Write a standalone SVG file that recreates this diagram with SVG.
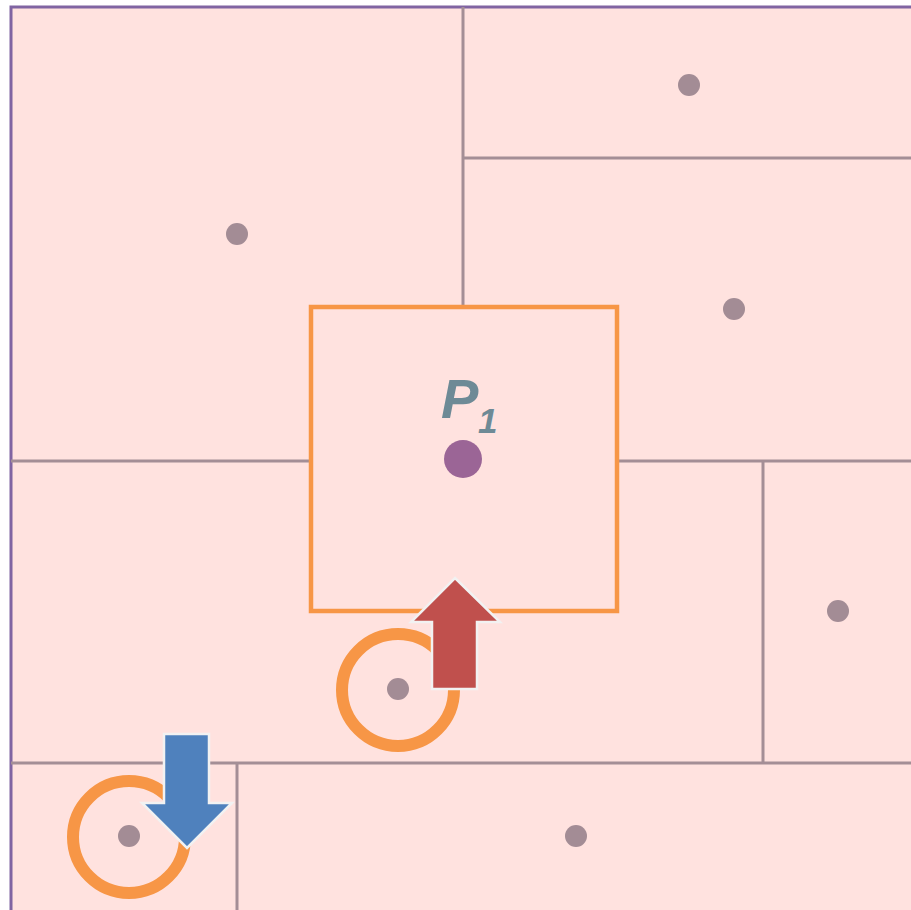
<svg xmlns="http://www.w3.org/2000/svg" width="911" height="910" viewBox="0 0 911 910">
<style>
.div{stroke:#A48E96;stroke-width:3;fill:none}
.pt{fill:#A38C95}
.ring{fill:none;stroke:#F79646;stroke-width:12}
.arrow{stroke:#F2F2F2;stroke-width:2.5;stroke-linejoin:miter}
</style>
<rect x="0" y="0" width="911" height="910" fill="#FFFFFF"/>
<rect x="11" y="7" width="920" height="920" fill="#FFE2DF" stroke="#8064A2" stroke-width="3"/>
<g id="connectors">
<line class="div" x1="463" y1="7" x2="463" y2="306"/>
<line class="div" x1="463" y1="158" x2="911" y2="158"/>
<line class="div" x1="11" y1="461" x2="310" y2="461"/>
<line class="div" x1="618" y1="461" x2="911" y2="461"/>
<line class="div" x1="763" y1="461" x2="763" y2="763"/>
<line class="div" x1="11" y1="763" x2="911" y2="763"/>
<line class="div" x1="237" y1="763" x2="237" y2="910"/>
</g>
<g id="query">
<rect x="311" y="307" width="306" height="304" fill="none" stroke="#F79646" stroke-width="4.5"/>
</g>
<g id="pt1"><circle class="pt" cx="237" cy="234" r="11"/></g>
<g id="pt2"><circle class="pt" cx="689" cy="85" r="11"/></g>
<g id="pt3"><circle class="pt" cx="734" cy="309" r="11"/></g>
<g id="pt4"><circle class="pt" cx="838" cy="611" r="11"/></g>
<g id="pt5"><circle class="ring" cx="398" cy="690" r="56"/><circle class="pt" cx="398" cy="689" r="11"/></g>
<g id="pt6"><circle class="ring" cx="129" cy="837" r="56"/><circle class="pt" cx="129" cy="836" r="11"/></g>
<g id="pt7"><circle class="pt" cx="576" cy="836" r="11"/></g>
<g id="p1">
<circle cx="463" cy="459" r="19" fill="#9B6596"/>
<text x="441" y="418" font-family="Liberation Sans, Arial, sans-serif" font-weight="bold" font-style="italic" font-size="56" fill="#6E8A96">P</text>
<text x="478" y="433" font-family="Liberation Sans, Arial, sans-serif" font-weight="bold" font-style="italic" font-size="35" fill="#6E8A96">1</text>
</g>
<g id="arrow-up">
<polygon class="arrow" fill="#C0504D" points="455,578 500,622 477,622 477,689 432,689 432,622 411,622"/>
</g>
<g id="arrow-down">
<polygon class="arrow" fill="#4F81BD" points="164,734 209,734 209,803 232,803 187,848 142,803 164,803"/>
</g>
</svg>
